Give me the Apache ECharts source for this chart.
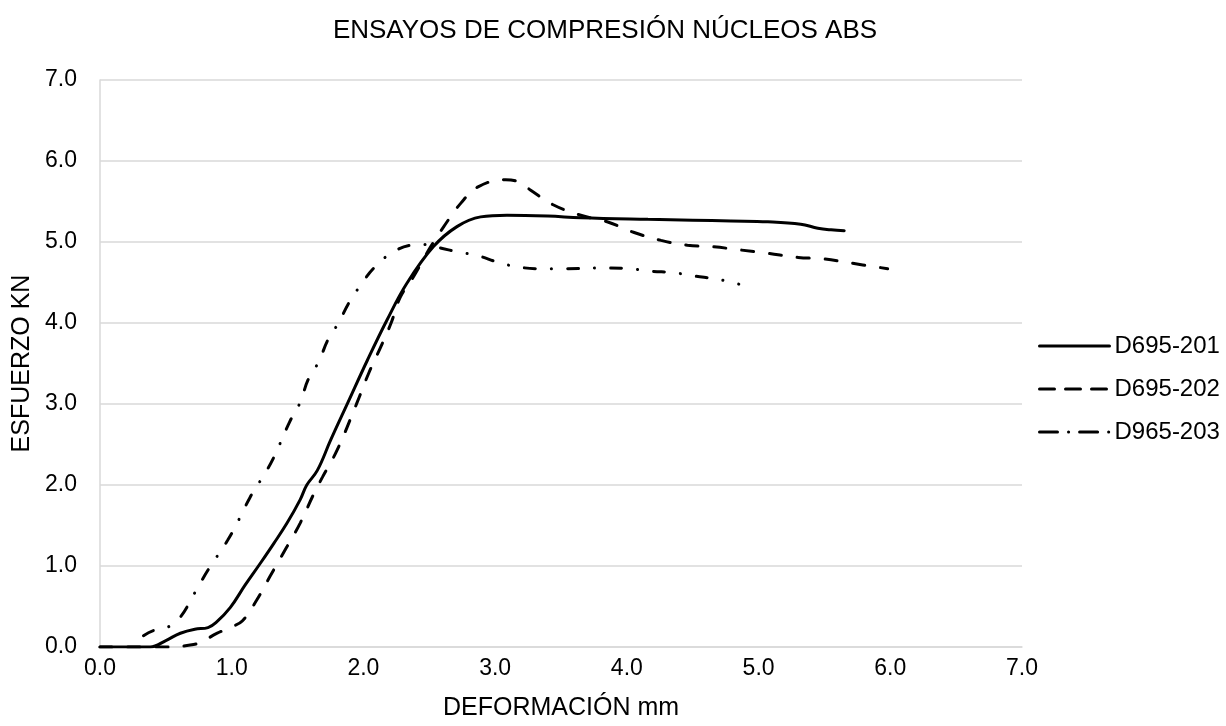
<!DOCTYPE html>
<html><head><meta charset="utf-8">
<script src="https://cdn.jsdelivr.net/npm/echarts@6/dist/echarts.min.js"></script>
<style>html,body{margin:0;padding:0;background:#fff}#c{width:1226px;height:726px}</style>
</head><body><div id="c"></div>
<script>
const titleText = 'ENSAYOS DE COMPRESIÓN NÚCLEOS ABS';
const xName = 'DEFORMACIÓN mm';
const yName = 'ESFUERZO KN';
const seriesNames = ['D695-201', 'D695-202', 'D965-203'];

const s201 = [[0,0],[0.38,0],[0.5,0.08],[0.61,0.17],[0.72,0.22],[0.82,0.24],[0.88,0.3],[0.99,0.49],[1.1,0.76],[1.22,1.04],[1.32,1.28],[1.42,1.53],[1.52,1.82],[1.57,2.0],[1.65,2.18],[1.75,2.55],[1.88,3.01],[2.03,3.54],[2.18,4.04],[2.33,4.49],[2.53,4.94],[2.71,5.19],[2.89,5.31],[3.09,5.33],[3.4,5.32],[3.65,5.3],[4.16,5.28],[4.5,5.27],[4.79,5.26],[5.07,5.25],[5.32,5.22],[5.45,5.17],[5.55,5.15],[5.65,5.14]];
const s202 = [[0,0],[0.45,0],[0.71,0.03],[0.89,0.17],[1.0,0.25],[1.08,0.32],[1.19,0.58],[1.29,0.87],[1.42,1.24],[1.52,1.53],[1.62,1.88],[1.69,2.1],[1.8,2.43],[1.95,3.01],[2.04,3.38],[2.13,3.7],[2.21,4.0],[2.28,4.32],[2.38,4.57],[2.51,4.94],[2.61,5.19],[2.74,5.48],[2.87,5.68],[3.08,5.77],[3.18,5.74],[3.27,5.64],[3.44,5.46],[3.65,5.33],[3.85,5.25],[4.05,5.12],[4.26,5.02],[4.46,4.96],[4.66,4.94],[4.87,4.9],[5.07,4.86],[5.3,4.81],[5.5,4.79],[5.7,4.74],[5.98,4.67]];
const s203 = [[0.33,0.14],[0.4,0.2],[0.52,0.25],[0.61,0.37],[0.72,0.67],[0.82,0.95],[0.97,1.32],[1.06,1.59],[1.14,1.85],[1.22,2.06],[1.31,2.31],[1.44,2.78],[1.52,3.02],[1.58,3.3],[1.66,3.52],[1.73,3.79],[1.81,4.0],[1.89,4.25],[1.98,4.47],[2.08,4.68],[2.21,4.86],[2.36,4.96],[2.47,4.97],[2.6,4.92],[2.71,4.88],[2.87,4.83],[3.02,4.75],[3.18,4.69],[3.35,4.67],[3.52,4.67],[3.85,4.68],[4.03,4.67],[4.18,4.64],[4.36,4.62],[4.51,4.58],[4.69,4.54],[4.85,4.48]];

const xTicks = {min: 0, max: 7, interval: 1};
const yTicks = {min: 0, max: 7, interval: 1};

const txt = '#000';
const font = '"Liberation Sans", Arial, sans-serif';
const plotDash = ['solid', [12, 16], [11, 16, 0.1, 16]];
const legendDash = ['solid', [15, 11], [18, 11, 0.1, 11]];
const datas = [s201, s202, s203];

const chart = echarts.init(document.getElementById('c'), null, {renderer: 'canvas'});
chart.setOption({
  animation: false,
  textStyle: {fontFamily: font},
  title: {text: titleText, left: 600, top: 13, textAlign: 'center',
    textStyle: {fontFamily: font, fontSize: 26, fontWeight: 'normal', color: txt}},
  grid: {left: 100, right: 204, top: 80, bottom: 79, containLabel: false},
  legend: {orient: 'vertical', left: 1033, top: 329, itemWidth: 70, itemHeight: 24, itemGap: 19,
    textStyle: {fontFamily: font, fontSize: 24, color: txt},
    itemStyle: {opacity: 0},
    data: seriesNames.map((n, i) => ({name: n, itemStyle: {opacity: 0},
      lineStyle: {type: legendDash[i], width: 3, cap: 'round', opacity: 1, color: '#000'}}))},
  xAxis: {type: 'value', min: xTicks.min, max: xTicks.max, interval: xTicks.interval,
    name: xName, nameLocation: 'middle', nameGap: 49,
    nameTextStyle: {fontFamily: font, fontSize: 25, color: txt},
    axisLine: {show: true, onZero: false, lineStyle: {color: '#d9d9d9', width: 1.5}},
    axisTick: {show: false}, splitLine: {show: false},
    axisLabel: {fontFamily: font, fontSize: 23, color: txt, margin: 10, formatter: v => v.toFixed(1)}},
  yAxis: {type: 'value', min: yTicks.min, max: yTicks.max, interval: yTicks.interval,
    name: yName, nameLocation: 'middle', nameGap: 65,
    nameTextStyle: {fontFamily: font, fontSize: 25, color: txt},
    axisLine: {show: true, lineStyle: {color: '#d9d9d9', width: 1.5}},
    axisTick: {show: false},
    splitLine: {show: true, lineStyle: {color: '#d9d9d9', width: 1.5}},
    axisLabel: {fontFamily: font, fontSize: 23, color: txt, margin: 23, formatter: v => v.toFixed(1)}},
  series: seriesNames.map((n, i) => ({
    name: n, type: 'line', data: datas[i], smooth: 0.4, showSymbol: false, symbol: 'none',
    lineStyle: {color: '#000', width: 3, type: plotDash[i], cap: 'round'},
    itemStyle: {color: '#000'}
  }))
});
</script></body></html>
